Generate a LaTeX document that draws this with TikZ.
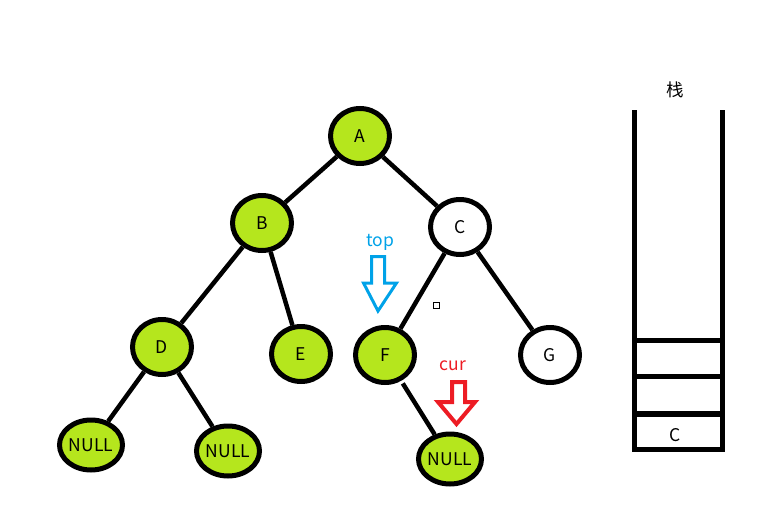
\documentclass[tikz,border=0pt]{standalone}
\usepackage{fontspec}
\setmainfont{Noto Sans CJK SC}
\usetikzlibrary{shapes.geometric}

\definecolor{leaf}{HTML}{B5E61D}
\definecolor{topblue}{HTML}{00A2E8}
\definecolor{curred}{HTML}{ED1C24}

\tikzset{
  tnode/.style={ellipse, draw, line width=5pt, fill=leaf, inner sep=0pt,
    minimum width=59pt, minimum height=55pt, font=\fontsize{17.5}{17.5}\selectfont},
  nullnode/.style={tnode, minimum width=63pt, minimum height=50pt},
  edge/.style={line width=4.5pt},
  wall/.style={line width=5pt}
}

\begin{document}
\begin{tikzpicture}[x=1pt, y=-1pt]
    \useasboundingbox (0,0) rectangle (781,522);

    \node[tnode] (a) at (360, 136) {A};
    \node[tnode] (b) at (262, 223) {B};
    \node[tnode, fill=white] (c) at (460, 227) {C};
    \node[tnode] (d) at (162, 347) {D};
    \node[tnode] (e) at (301, 354) {E};
    \node[tnode] (f) at (385, 355) {F};
    \node[tnode, fill=white] (g) at (550, 355) {G};
    \node[nullnode] (n1) at (91, 445) {NULL};
    \node[nullnode] (n2) at (228, 451) {NULL};
    \node[nullnode] (n3) at (450, 459) {NULL};

    % Edges
    \draw[edge] (a) -- (b);
    \draw[edge] (a) -- (c);
    \draw[edge] (b) -- (d);
    \draw[edge] (b) -- (e);
    \draw[edge] (c) -- (f);
    \draw[edge] (c) -- (g);
    \draw[edge] (d) -- (n1);
    \draw[edge] (d) -- (n2);
    \draw[edge, shorten <=3pt] (f) -- (n3);

    % stray mark
    \draw[line width=1pt] (433, 302) rectangle (439, 308);

    % top pointer
    \node[text=topblue, font=\fontsize{17.5}{17.5}\selectfont] (toplbl) at (380, 242) {top};
    \draw[topblue, line width=3pt, line join=miter]
      (371.5, 256.5) -- (384.5, 256.5) -- (384.5, 283) -- (396.5, 283)
      -- (378, 311) -- (363.5, 283) -- (371.5, 283) -- cycle;

    % cur pointer
    \node[text=curred, font=\fontsize{17.5}{17.5}\selectfont] (curlbl) at (453, 366) {cur};
    \draw[curred, line width=4pt, line join=miter]
      (452, 382) -- (465, 382) -- (465, 402) -- (475, 402)
      -- (456.5, 424) -- (438, 402) -- (452, 402) -- cycle;

    % stack
    \node[font=\fontsize{17.5}{17.5}\selectfont] (stk) at (675, 90) {栈};
    \draw[wall, line cap=rect, line join=miter]
      (634.5, 112) -- (634.5, 449.5) -- (722.5, 449.5) -- (722.5, 112);
    \draw[wall] (634.5, 340.5) -- (722.5, 340.5);
    \draw[wall] (634.5, 376.5) -- (722.5, 376.5);
    \draw[line width=6pt] (634.5, 414) -- (722.5, 414);
    \node[font=\fontsize{17.5}{17.5}\selectfont] (cellc) at (675, 435) {C};
\end{tikzpicture}
\end{document}
